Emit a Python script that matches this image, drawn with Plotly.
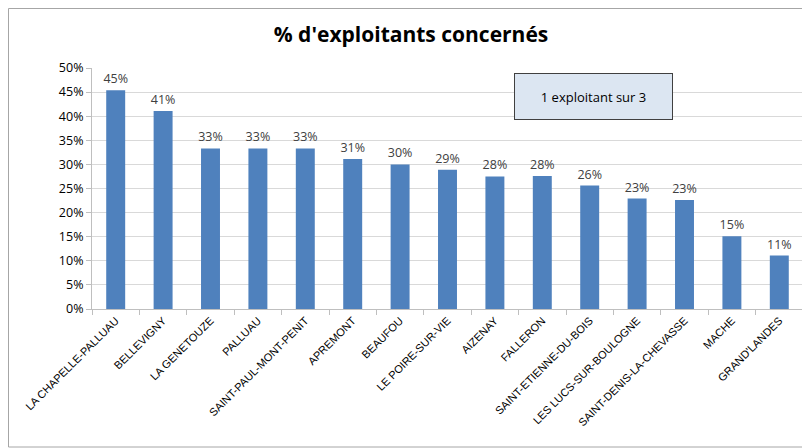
import plotly.graph_objects as go

communes = [
    "LA CHAPELLE-PALLUAU", "BELLEVIGNY", "LA GENETOUZE", "PALLUAU",
    "SAINT-PAUL-MONT-PENIT", "APREMONT", "BEAUFOU", "LE POIRE-SUR-VIE",
    "AIZENAY", "FALLERON", "SAINT-ETIENNE-DU-BOIS", "LES LUCS-SUR-BOULOGNE",
    "SAINT-DENIS-LA-CHEVASSE", "MACHE", "GRAND'LANDES",
]
pct = [45.4, 41.1, 33.3, 33.3, 33.3, 31.1, 30.0, 28.9,
       27.5, 27.6, 25.6, 22.9, 22.6, 15.1, 11.1]
y_ticks = list(range(0, 51, 5))

# page body adds an 8px offset, so the figure is drawn 8px smaller
OFF = 8
W, H = 810 - OFF, 448 - OFF
L, R, T, B = 92 - OFF, 7, 68 - OFF, 139
pw, ph = W - L - R, H - T - B


def px(x):
    return (x - OFF - L) / pw


def py(y):
    return (H - B - (y - OFF)) / ph


fig = go.Figure()
fig.add_trace(go.Bar(
    x=communes,
    y=pct,
    marker=dict(color="#4f81bd", line=dict(width=0)),
    text=[f"{round(v)}%" for v in pct],
    textposition="outside",
    constraintext="none",
    textfont=dict(family="Open Sans, Liberation Sans, sans-serif", size=12.5, color="#404040"),
    cliponaxis=False,
    width=0.4,
))

# text box
fig.add_annotation(
    xref="paper", yref="paper",
    x=px(593), y=py(96),
    text="1 exploitant sur 3",
    showarrow=False,
    font=dict(family="Open Sans, Liberation Sans, sans-serif", size=13, color="#000000"),
    bgcolor="#dce6f2",
    bordercolor="#404040",
    borderwidth=1,
    width=155, height=43,
    xanchor="center", yanchor="middle",
)

# outer chart frame
fig.add_shape(
    type="rect", xref="paper", yref="paper",
    x0=px(8.5), x1=px(806),
    y0=py(447), y1=py(8.5),
    line=dict(color="#a6a6a6", width=1),
)

fig.update_layout(
    width=W, height=H,
    margin=dict(l=L, r=R, t=T, b=B),
    paper_bgcolor="white",
    plot_bgcolor="white",
    showlegend=False,
    title=dict(
        text="<b>% d'exploitants concernés</b>",
        x=(411 - OFF) / W, xref="container", xanchor="center",
        y=1 - (35 - OFF) / H, yanchor="middle",
        font=dict(family="Open Sans, Liberation Sans, sans-serif", size=21, color="#000000"),
    ),
    xaxis=dict(
        tickangle=-45,
        tickfont=dict(family="Liberation Sans, Arial, sans-serif", size=11, color="#000000"),
        showline=True, linecolor="#bfbfbf",
        ticks="outside", tickson="boundaries", ticklen=5, tickcolor="#bfbfbf",
        showgrid=False,
    ),
    yaxis=dict(
        range=[0, 50],
        tickvals=y_ticks,
        ticktext=[f"{v}%" for v in y_ticks],
        tickfont=dict(family="Open Sans, Liberation Sans, sans-serif", size=12.5, color="#000000"),
        showline=True, linecolor="#bfbfbf",
        ticks="outside", ticklen=5, tickcolor="#bfbfbf",
        showgrid=True, gridcolor="#d9d9d9",
        zeroline=False,
    ),
)

fig.write_html("out.html")
